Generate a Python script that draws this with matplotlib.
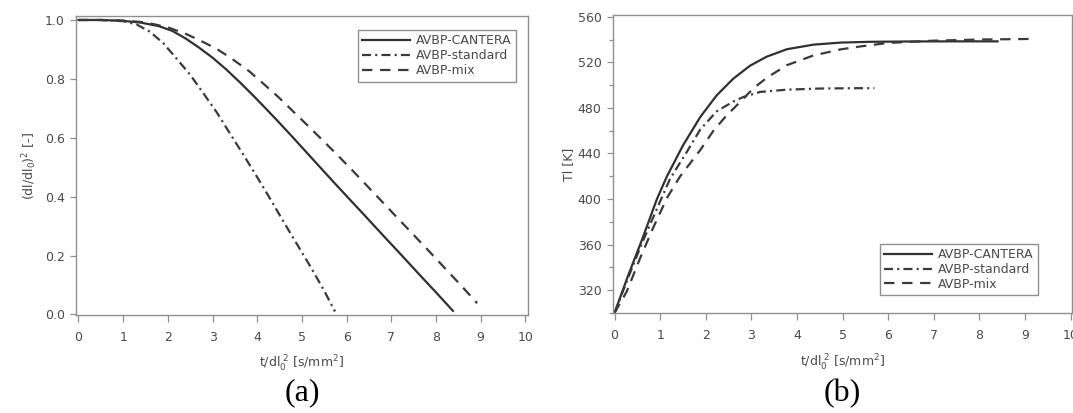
import numpy as np
import matplotlib
matplotlib.use("Agg")
import matplotlib.pyplot as plt
from matplotlib.ticker import FixedLocator, FormatStrFormatter

# ==============================
# Data
# ==============================
labels = ["AVBP-CANTERA", "AVBP-standard", "AVBP-mix"]

# (a) squared droplet diameter
a_cantera_t = [0, 0.5, 1.0, 1.4, 1.8, 2.1, 2.4, 2.7, 3.0, 3.3, 3.6, 3.9, 4.2, 4.5,
               4.8, 5.1, 5.4, 5.7, 6.0, 6.4, 6.8, 7.2, 7.6, 8.0, 8.38]
a_cantera_d = [1.0, 1.0, 0.997, 0.991, 0.979, 0.963, 0.937, 0.906, 0.872, 0.833,
               0.790, 0.745, 0.698, 0.650, 0.601, 0.551, 0.501, 0.451, 0.402,
               0.337, 0.271, 0.206, 0.140, 0.075, 0.012]

a_standard_t = [0, 0.5, 1.0, 1.3, 1.6, 1.9, 2.2, 2.5, 2.8, 3.1, 3.4, 3.7, 4.0, 4.3,
                4.6, 4.9, 5.2, 5.5, 5.74]
a_standard_d = [1.0, 1.0, 0.996, 0.985, 0.960, 0.921, 0.868, 0.814, 0.750, 0.685,
                0.612, 0.540, 0.466, 0.390, 0.312, 0.236, 0.160, 0.080, 0.010]

a_mix_t = [0, 0.5, 1.0, 1.5, 2.0, 2.4, 2.7, 3.08, 3.4, 3.82, 4.15, 4.49, 4.8, 5.16,
           5.5, 5.83, 6.2, 6.6, 7.0, 7.4, 7.8, 8.2, 8.6, 8.92]
a_mix_d = [1.0, 1.0, 0.998, 0.992, 0.975, 0.953, 0.932, 0.903, 0.872, 0.826, 0.782,
           0.736, 0.690, 0.637, 0.586, 0.536, 0.478, 0.414, 0.350, 0.286, 0.222,
           0.157, 0.092, 0.038]

# (b) droplet temperature
b_cantera_t = [0, 0.3, 0.6, 0.93, 1.15, 1.5, 1.88, 2.24, 2.6, 2.97, 3.34, 3.78,
               4.36, 4.95, 5.6, 6.5, 7.5, 8.4]
b_cantera_T = [300, 333, 364, 400, 420, 447, 472, 491, 505.5, 517, 525, 531.5,
               535.5, 537.3, 538, 538.3, 538.4, 538.4]

b_standard_t = [0, 0.3, 0.6, 1.0, 1.22, 1.58, 1.88, 2.24, 2.6, 2.82, 3.19, 3.78,
                4.5, 5.3, 5.7]
b_standard_T = [300, 331, 361, 398, 418, 441, 461, 477, 485.5, 489.5, 494, 496,
                497, 497.3, 497.3]

b_mix_t = [0, 0.27, 0.56, 0.85, 1.15, 1.44, 1.88, 2.17, 2.46, 2.75, 3.04, 3.34,
           3.78, 4.36, 4.95, 5.4, 6.0, 7.0, 8.0, 9.1]
b_mix_T = [300, 319, 348, 375, 401, 420, 443, 460, 473.5, 485, 497, 506.5, 517.5,
           526, 531.3, 534, 537, 539, 540, 540.5]

x_ticks = list(range(0, 11))
a_yticks = [0.0, 0.2, 0.4, 0.6, 0.8, 1.0]
b_yticks = [320, 360, 400, 440, 480, 520, 560]
b_yminor = [300, 340, 380, 420, 460, 500, 540]

# ==============================
# Style
# ==============================
plt.rcParams['font.family'] = ['DejaVu Sans']
plt.rcParams['mathtext.fontset'] = 'dejavusans'
plt.rcParams['lines.scale_dashes'] = False

LINE = '#3a3a3a'
FRAME = '#8f8f8f'
TEXT = '#4a4a4a'
styles = [
    dict(color='#303030', lw=1.6, ls='-'),
    dict(color=LINE, lw=1.6, ls=(0, (6.5, 3, 1.5, 3))),
    dict(color=LINE, lw=1.6, ls=(0, (7.5, 5.5))),
]

fig = plt.figure(figsize=(10.73, 4.13), dpi=100)
ax1 = fig.add_axes([0.0708, 0.2373, 0.4213, 0.724])
ax2 = fig.add_axes([0.5710, 0.2421, 0.4280, 0.7215])


def style_axes(ax):
    for sp in ax.spines.values():
        sp.set_color(FRAME)
        sp.set_linewidth(1.0)
    ax.tick_params(which='both', color=FRAME, labelcolor=TEXT, labelsize=9,
                   direction='out', width=0.9)
    ax.tick_params(axis='x', which='major', length=5, pad=6.5)
    ax.tick_params(axis='y', which='major', length=4.5, pad=3.5)
    ax.tick_params(axis='y', which='minor', length=3)
    ax.xaxis.set_major_locator(FixedLocator(x_ticks))
    ax.set_xlabel(r't/dl$_0^{\ 2}$ [s/mm$^2$]', fontsize=9, color=TEXT, labelpad=7.5)


def add_legend(ax, loc, anchor):
    leg = ax.legend(loc=loc, bbox_to_anchor=anchor, borderaxespad=0,
                    fontsize=9, frameon=True, fancybox=False, framealpha=1,
                    handlelength=3.8, handletextpad=0.5, labelspacing=0.15,
                    borderpad=0.35)
    leg.get_frame().set_edgecolor(FRAME)
    leg.get_frame().set_linewidth(1.0)
    for t in leg.get_texts():
        t.set_color(TEXT)


# ==============================
# Panel (a)
# ==============================
for (t, d), lab, st in zip([(a_cantera_t, a_cantera_d),
                            (a_standard_t, a_standard_d),
                            (a_mix_t, a_mix_d)], labels, styles):
    ax1.plot(t, d, label=lab, **st)

style_axes(ax1)
ax1.set_xlim(-0.056, 10.06)
ax1.set_ylim(-0.002, 1.0136)
ax1.yaxis.set_major_locator(FixedLocator(a_yticks))
ax1.yaxis.set_major_formatter(FormatStrFormatter('%.1f'))
ax1.set_ylabel(r'(dl/dl$_0$)$^2$ [-]', fontsize=9, color=TEXT, labelpad=4)
add_legend(ax1, 'upper right', (0.9735, 0.953))

# ==============================
# Panel (b)
# ==============================
for (t, T), lab, st in zip([(b_cantera_t, b_cantera_T),
                            (b_standard_t, b_standard_T),
                            (b_mix_t, b_mix_T)], labels, styles):
    ax2.plot(t, T, label=lab, **st)

style_axes(ax2)
ax2.set_xlim(-0.04, 10.03)
ax2.set_ylim(300, 561.5)
ax2.yaxis.set_major_locator(FixedLocator(b_yticks))
ax2.yaxis.set_minor_locator(FixedLocator(b_yminor))
ax2.set_ylabel('Tl [K]', fontsize=9, color=TEXT, labelpad=2)
add_legend(ax2, 'lower right', (0.926, 0.06))

# ==============================
# Captions
# ==============================
fig.text(0.2815, 0.048, '(a)', family='Liberation Serif', fontsize=23,
         ha='center', va='center', color='black')
fig.text(0.785, 0.048, '(b)', family='Liberation Serif', fontsize=23,
         ha='center', va='center', color='black')

fig.savefig('out.png', dpi=100)
plt.close()
